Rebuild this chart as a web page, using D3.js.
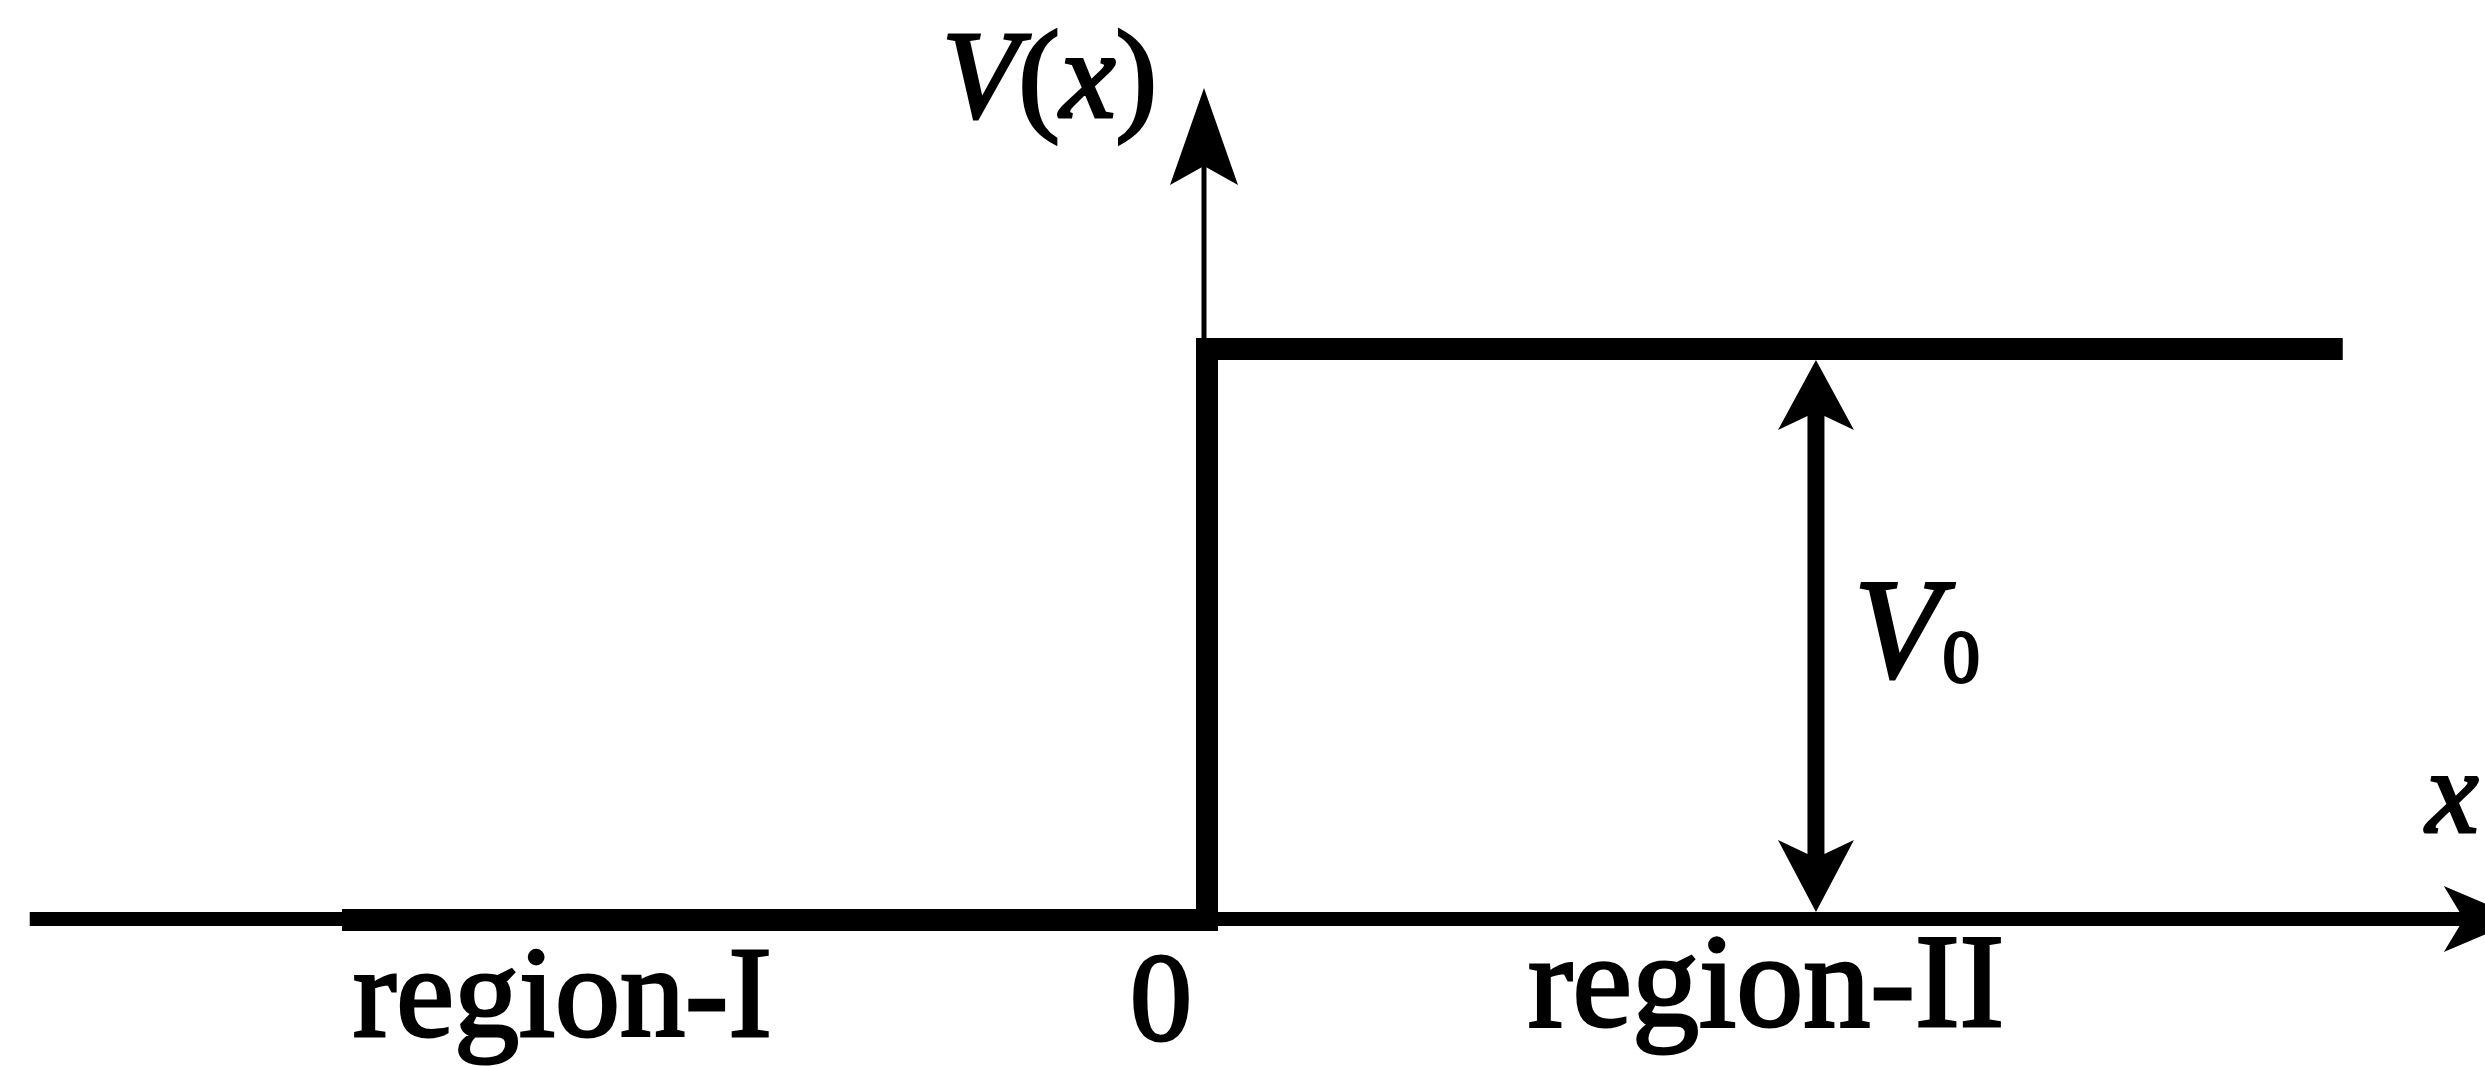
<!DOCTYPE html>
<html>
<head>
<meta charset="utf-8">
<script src="https://cdn.jsdelivr.net/npm/d3@7/dist/d3.min.js"></script>
<style>
  html, body { margin: 0; padding: 0; background: #fff; }
  svg { display: block; }
  text { font-family: "Liberation Serif", "Times New Roman", serif; fill: #000; stroke: #000; stroke-width: 3px; }
</style>
</head>
<body>
<svg id="chart" width="2485" height="1066"></svg>
<script>
// ---- data ----
const potentialX = [-1.0, 0, 0, 1.313];   // x positions of the step potential outline
const potentialV = [0, 0, 1, 1];           // V(x)/V0 at those points
const axisXExtent = [-1.361, 1.52];        // x-axis from left end to arrow tip
const axisVTop = 1.457;                    // V-axis arrow tip
const barrierArrowX = 0.704;               // position of the V0 double arrow
const regionLabels = ["region-I", "0", "region-II"];
const axisLabels = ["V(x)", "x"];
const heightLabel = ["V", "0"];

// ---- scales ----
const W = 2485, H = 1066;
const x = d3.scaleLinear().domain([-1, 0]).range([342, 1207]);
const y = d3.scaleLinear().domain([0, 1]).range([920, 349]);

const svg = d3.select("#chart");
svg.append("rect").attr("width", W).attr("height", H).attr("fill", "#fff");

// arrowhead (barbed) pointing in direction (dx,dy) with tip at (tx,ty)
function arrowHead(tx, ty, dx, dy, len, half, notch) {
  const px = -dy, py = dx;
  const bx = tx - dx * len, by = ty - dy * len;
  const nx = tx - dx * notch, ny = ty - dy * notch;
  return `M${tx},${ty}L${bx + px * half},${by + py * half}L${nx},${ny}L${bx - px * half},${by - py * half}Z`;
}

// x axis
const axisY = y(0) - 1;
svg.append("line")
  .attr("x1", x(axisXExtent[0])).attr("x2", x(axisXExtent[1]) - 50)
  .attr("y1", axisY).attr("y2", axisY)
  .attr("stroke", "#000").attr("stroke-width", 14);
svg.append("path")
  .attr("d", arrowHead(x(axisXExtent[1]), axisY, 1, 0, 78, 33, 58))
  .attr("fill", "#000");

// V axis
const axisX = x(0) - 3;
svg.append("line")
  .attr("x1", axisX).attr("x2", axisX)
  .attr("y1", y(0)).attr("y2", y(axisVTop) + 60)
  .attr("stroke", "#000").attr("stroke-width", 5);
svg.append("path")
  .attr("d", arrowHead(axisX, y(axisVTop), 0, -1, 97, 34, 78))
  .attr("fill", "#000");

// step potential
const pts = potentialX.map((d, i) => [x(d), y(potentialV[i])]);
svg.append("path")
  .attr("d", d3.line()(pts))
  .attr("fill", "none")
  .attr("stroke", "#000")
  .attr("stroke-width", 22)
  .attr("stroke-linejoin", "miter")
  .attr("stroke-linecap", "butt");

// V0 double arrow
const ax = x(barrierArrowX);
const topY = y(1) + 11, botY = y(0) - 8;
svg.append("line")
  .attr("x1", ax).attr("x2", ax)
  .attr("y1", topY + 50).attr("y2", botY - 50)
  .attr("stroke", "#000").attr("stroke-width", 17);
svg.append("path")
  .attr("d", arrowHead(ax, topY, 0, -1, 70, 38, 52))
  .attr("fill", "#000");
svg.append("path")
  .attr("d", arrowHead(ax, botY, 0, 1, 72, 38, 54))
  .attr("fill", "#000");

// axis labels
const vlab = svg.append("text").attr("x", 942).attr("y", 117).attr("font-size", 125);
vlab.append("tspan").attr("font-style", "italic").text(axisLabels[0].slice(0, 1));
vlab.append("tspan").text("(");
vlab.append("tspan").attr("font-style", "italic").text(axisLabels[0].slice(2, 3));
vlab.append("tspan").text(")");

svg.append("text").attr("x", 2426).attr("y", 832).attr("font-size", 118)
  .attr("font-style", "italic").text(axisLabels[1]);

// V0 label
const v0 = svg.append("text").attr("x", 1854).attr("y", 677).attr("font-size", 142);
v0.append("tspan").attr("font-style", "italic").text(heightLabel[0]);
v0.append("tspan").attr("font-size", 74).attr("dx", 2).attr("dy", 5).text(heightLabel[1]);

// region labels
svg.append("text").attr("x", 353).attr("y", 1036).attr("font-size", 130).text(regionLabels[0]);
svg.append("text").attr("x", 1161).attr("y", 1040).attr("font-size", 124)
  .attr("text-anchor", "middle").text(regionLabels[1]);
svg.append("text").attr("x", 1528).attr("y", 1026).attr("font-size", 134).text(regionLabels[2]);
</script>
</body>
</html>
